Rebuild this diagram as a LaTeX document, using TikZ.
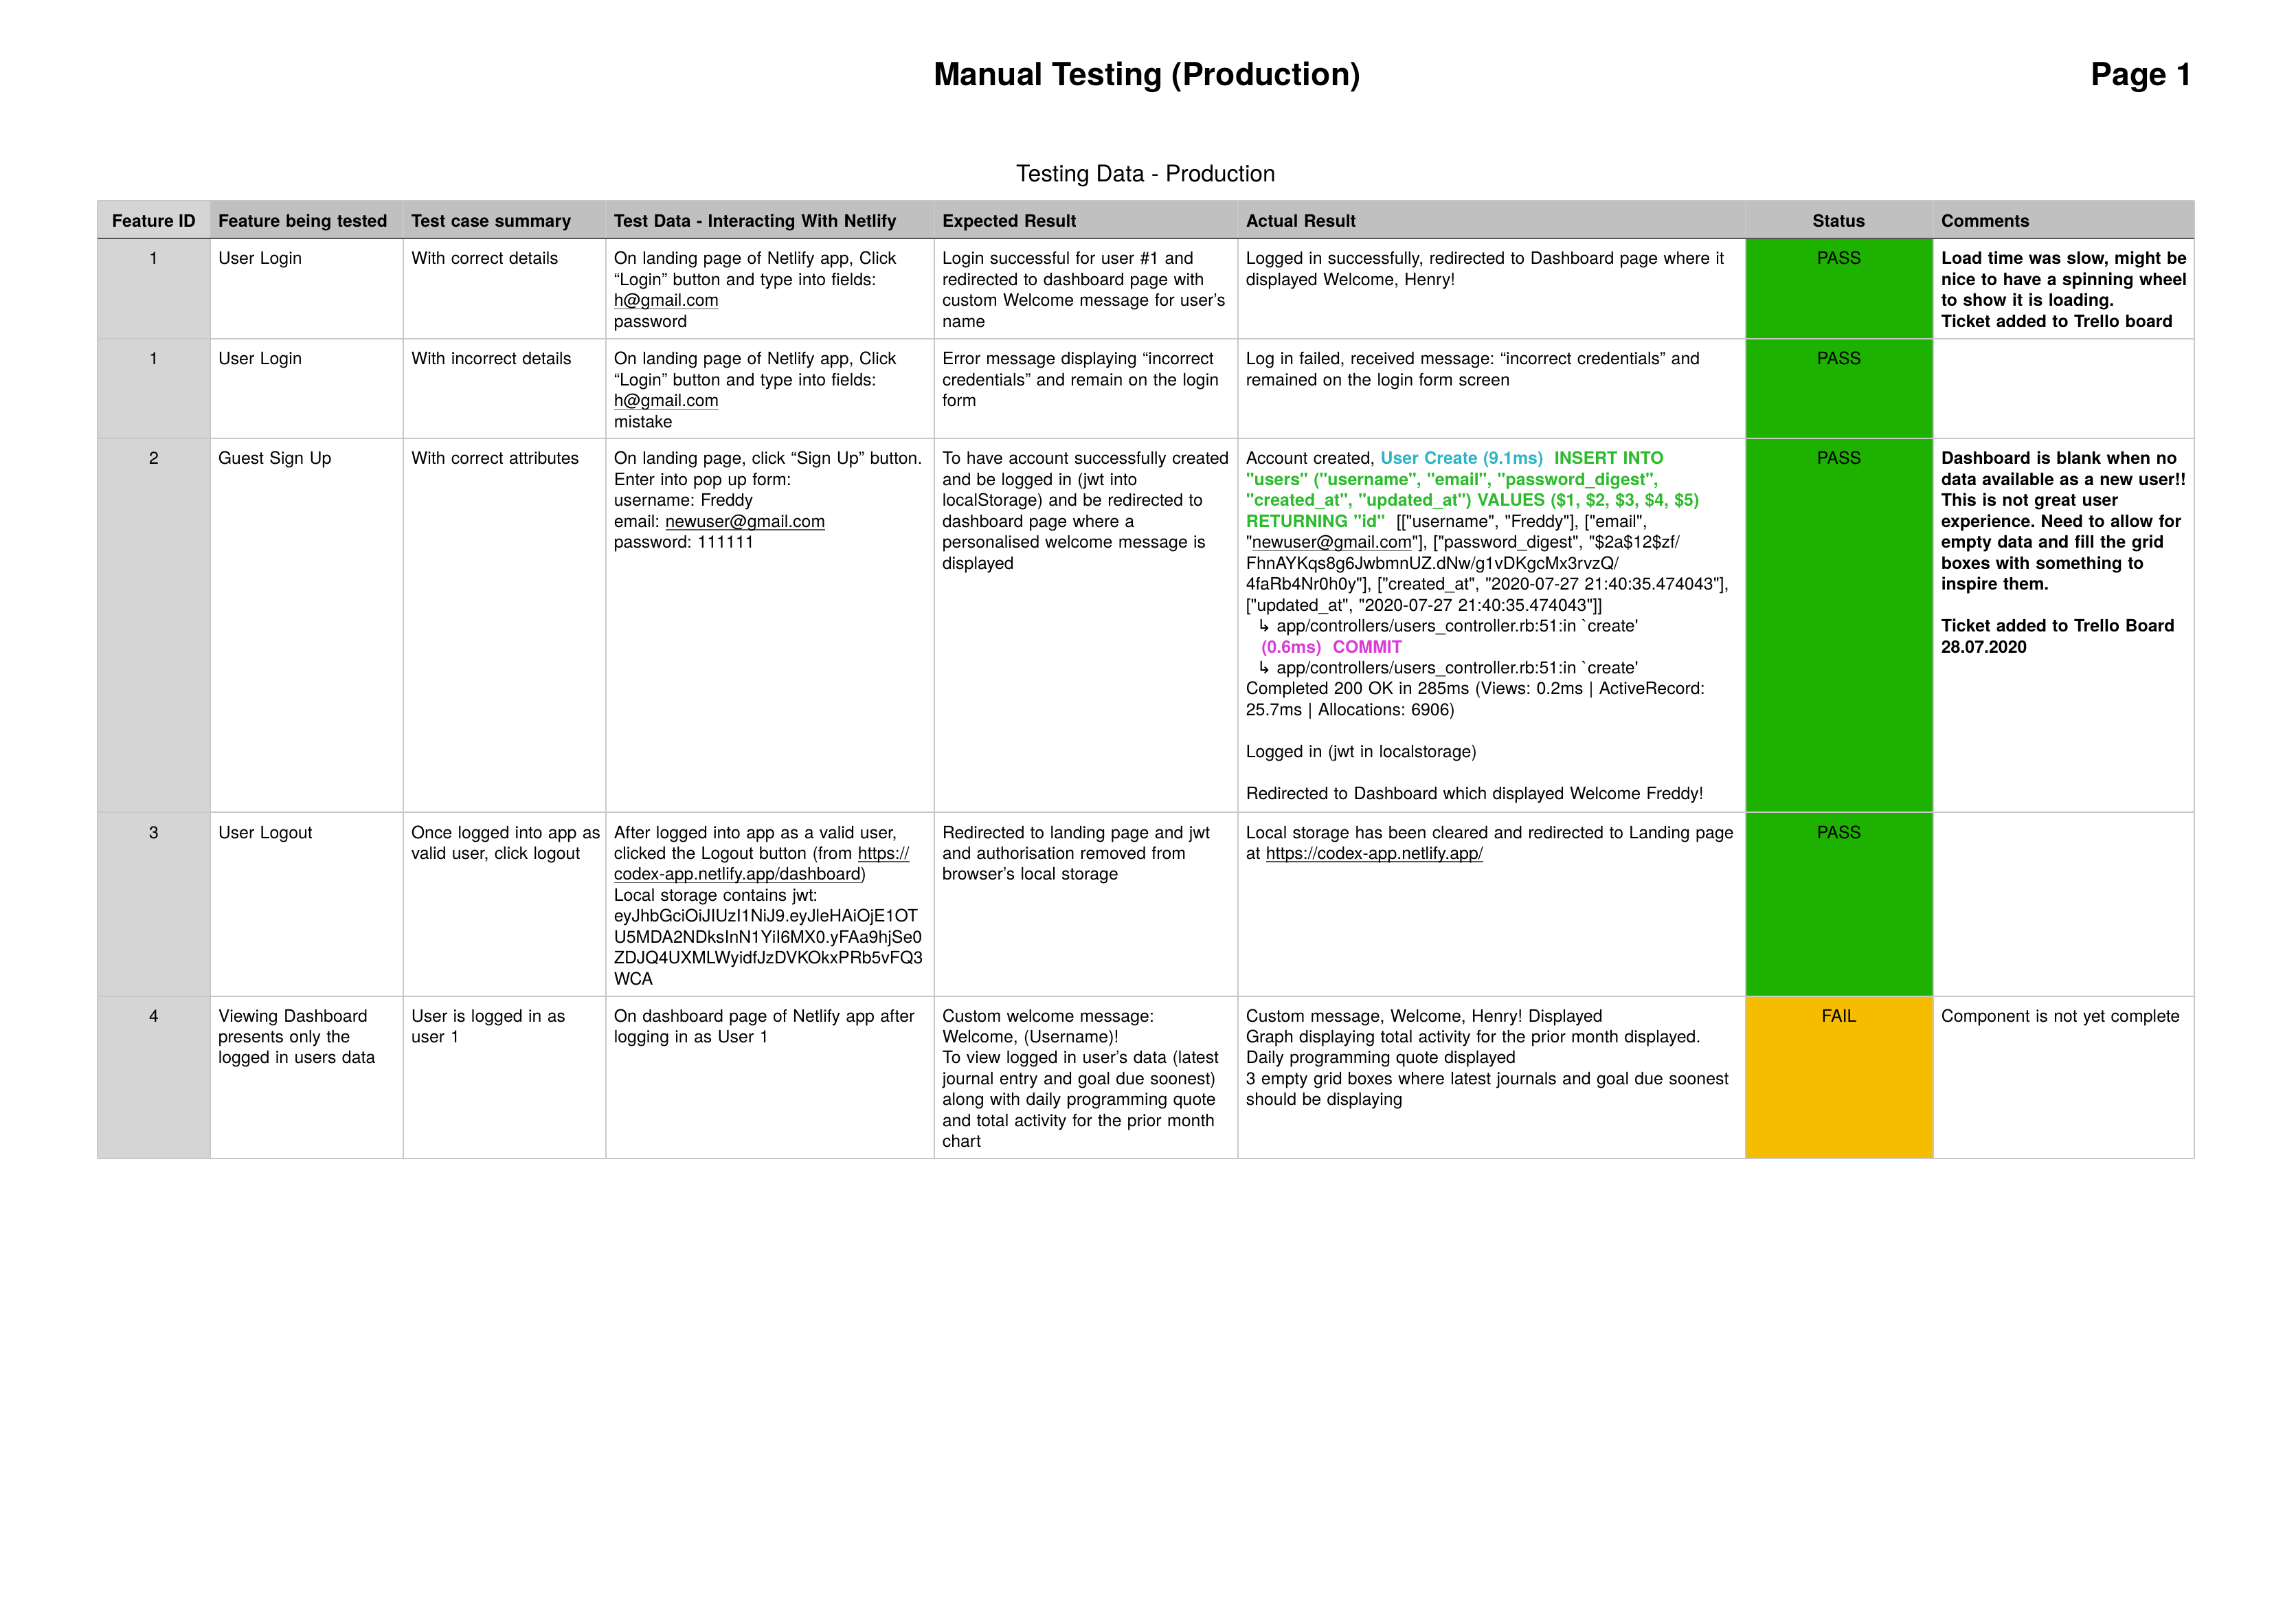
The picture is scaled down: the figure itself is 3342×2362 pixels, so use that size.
\documentclass[tikz,border=0pt]{standalone}
\usepackage{fontspec}
\setmainfont{TeX Gyre Heros}[Ligatures=TeXOff]
\newfontfamily\arrowfont{DejaVu Sans}
\usepackage{tikz}
\usetikzlibrary{positioning}
\frenchspacing

\definecolor{hdrgray}{HTML}{BFC0BF}
\definecolor{idgray}{HTML}{D5D5D5}
\definecolor{gridgray}{HTML}{C8C8C8}
\definecolor{rulegray}{HTML}{555555}
\definecolor{passgreen}{HTML}{1DB100}
\definecolor{failorange}{HTML}{F6BC00}
\definecolor{sqlcyan}{HTML}{2FB4C6}
\definecolor{sqlgreen}{HTML}{2CBB2C}
\definecolor{sqlpink}{HTML}{D93CD9}

\newcommand\bodyfont{\fontsize{6.3}{7.7}\selectfont}
\newcommand\hook{\hspace*{1.4mm}{\arrowfont ↳}\ }
\newcommand\link[1]{\leavevmode\setbox0\hbox{#1}\rlap{\color{rulegray}\rule[-1.1pt]{\wd0}{0.35pt}}\box0}

\begin{document}
\begin{tikzpicture}[
		  x=0.08887mm, y=-0.08887mm,
		  cell/.style={anchor=base west, inner sep=0pt, align=left, text width=70mm, font=\bodyfont},
		  mid/.style={anchor=base, inner sep=0pt, font=\bodyfont},
		  head/.style={cell, font=\bodyfont\bfseries},
		  note/.style={cell, font=\bodyfont\bfseries},
		  vline/.style={gridgray, line width=0.3pt},
		  hline/.style={gridgray, line width=0.55pt},
		  hrule/.style={rulegray, line width=0.75pt}
		]
		\useasboundingbox[fill=white] (0,0) rectangle (3342,2362);
		
		% titles
		\node[anchor=base, inner sep=0pt, font=\fontsize{11.7}{14}\selectfont\bfseries] (title) at (1670,125) {Manual Testing (Production)};
		\node[anchor=base east, inner sep=0pt, font=\fontsize{11.7}{14}\selectfont\bfseries] (page) at (3194,125) {Page 1};
		\node[anchor=base, inner sep=0pt, font=\fontsize{8.5}{10}\selectfont] (sub) at (1668,265) {Testing Data - Production};
		
		% cell fills
		\fill[hdrgray] (142,292) rectangle (3194,347);
		\fill[idgray] (142,292) rectangle (306,1686);
		\fill[passgreen] (2541,347) rectangle (2814,1450);
		\fill[failorange] (2541,1450) rectangle (2814,1686);
		
		% grid
		\draw[vline] (142,292) -- (142,1686) (306,292) -- (306,1686) (587,292) -- (587,1686)
		  (882,292) -- (882,1686) (1360,292) -- (1360,1686) (1802,292) -- (1802,1686)
		  (2541,292) -- (2541,1686) (2814,292) -- (2814,1686) (3194,292) -- (3194,1686);
		\draw[hline] (142,292) -- (3194,292) (142,493) -- (3194,493) (142,638) -- (3194,638)
		  (142,1182) -- (3194,1182) (142,1450) -- (3194,1450) (142,1686) -- (3194,1686);
		\draw[hrule] (142,347) -- (3194,347);
		
		% header
		\node[mid, font=\bodyfont\bfseries] (hId) at (224,331) {Feature ID};
		\node[head] (hFeature) at (317,331) {Feature being tested};
		\node[head] (hSummary) at (598,331) {Test case summary};
		\node[head] (hData) at (893,331) {Test Data - Interacting With Netlify};
		\node[head] (hExpected) at (1371,331) {Expected Result};
		\node[head] (hActual) at (1813,331) {Actual Result};
		\node[mid, font=\bodyfont\bfseries] (hStatus) at (2677,331) {Status};
		\node[head] (hComments) at (2825,331) {Comments};
		
		% row 1
		\node[mid] (id1) at (224,385) {1};
		\node[cell] (feat1) at (317,385) {User Login};
		\node[cell] (sum1) at (598,385) {With correct details};
		\node[cell] (data1) at (893,385) {On landing page of Netlify app, Click\\“Login” button and type into fields:\\\link{h@gmail.com}\\password};
		\node[cell] (exp1) at (1371,385) {Login successful for user \#1 and\\redirected to dashboard page with\\custom Welcome message for user’s\\name};
		\node[cell] (act1) at (1813,385) {Logged in successfully, redirected to Dashboard page where it\\displayed Welcome, Henry!};
		\node[mid] (stat1) at (2677,385) {PASS};
		\node[note] (com1) at (2825,385) {Load time was slow, might be\\nice to have a spinning wheel\\to show it is loading.\\Ticket added to Trello board};
		
		% row 2
		\node[mid] (id2) at (224,531) {1};
		\node[cell] (feat2) at (317,531) {User Login};
		\node[cell] (sum2) at (598,531) {With incorrect details};
		\node[cell] (data2) at (893,531) {On landing page of Netlify app, Click\\“Login” button and type into fields:\\\link{h@gmail.com}\\mistake};
		\node[cell] (exp2) at (1371,531) {Error message displaying “incorrect\\credentials” and remain on the login\\form};
		\node[cell] (act2) at (1813,531) {Log in failed, received message: “incorrect credentials” and\\remained on the login form screen};
		\node[mid] (stat2) at (2677,531) {PASS};
		
		% row 3
		\node[mid] (id3) at (224,676) {2};
		\node[cell] (feat3) at (317,676) {Guest Sign Up};
		\node[cell] (sum3) at (598,676) {With correct attributes};
		\node[cell] (data3) at (893,676) {On landing page, click “Sign Up” button.\\Enter into pop up form:\\username: Freddy\\email: \link{newuser@gmail.com}\\password: 111111};
		\node[cell] (exp3) at (1371,676) {To have account successfully created\\and be logged in (jwt into\\localStorage) and be redirected to\\dashboard page where a\\personalised welcome message is\\displayed};
		\node[cell] (act3) at (1813,676) {Account created, {\bfseries\color{sqlcyan}User Create (9.1ms)}\ \ {\bfseries\color{sqlgreen}INSERT INTO}\\
		  {\bfseries\color{sqlgreen}"users" ("username", "email", "password\_digest",}\\
		  {\bfseries\color{sqlgreen}"created\_at", "updated\_at") VALUES (\$1, \$2, \$3, \$4, \$5)}\\
		  {\bfseries\color{sqlgreen}RETURNING "id"}\ \ [["username", "Freddy"], ["email",\\
		  "\link{newuser@gmail.com}"], ["password\_digest", "\$2a\$12\$zf/\\
		  FhnAYKqs8g6JwbmnUZ.dNw/g1vDKgcMx3rvzQ/\\
		  4faRb4Nr0h0y"], ["created\_at", "2020-07-27 21:40:35.474043"],\\\relax
		  ["updated\_at", "2020-07-27 21:40:35.474043"]]\\
		  \hook app/controllers/users\_controller.rb:51:in `create'\\
		  \hspace*{2mm}{\bfseries\color{sqlpink}(0.6ms)\ \ COMMIT}\\
		  \hook app/controllers/users\_controller.rb:51:in `create'\\
		  Completed 200 OK in 285ms (Views: 0.2ms | ActiveRecord:\\
		  25.7ms | Allocations: 6906)\\[7.7pt]
		  Logged in (jwt in localstorage)\\[7.7pt]
		  Redirected to Dashboard which displayed Welcome Freddy!};
		\node[mid] (stat3) at (2677,676) {PASS};
		\node[note] (com3) at (2825,676) {Dashboard is blank when no\\data available as a new user!!\\This is not great user\\experience. Need to allow for\\empty data and fill the grid\\boxes with something to\\inspire them.\\[7.7pt]Ticket added to Trello Board\\28.07.2020};
		
		% row 4
		\node[mid] (id4) at (224,1220) {3};
		\node[cell] (feat4) at (317,1220) {User Logout};
		\node[cell] (sum4) at (598,1220) {Once logged into app as\\valid user, click logout};
		\node[cell] (data4) at (893,1220) {After logged into app as a valid user,\\clicked the Logout button (from \link{https://}\\\link{codex-app.netlify.app/dashboard})\\Local storage contains jwt:\\eyJhbGciOiJIUzI1NiJ9.eyJleHAiOjE1OT\\U5MDA2NDksInN1YiI6MX0.yFAa9hjSe0\\ZDJQ4UXMLWyidfJzDVKOkxPRb5vFQ3\\WCA};
		\node[cell] (exp4) at (1371,1220) {Redirected to landing page and jwt\\and authorisation removed from\\browser’s local storage};
		\node[cell] (act4) at (1813,1220) {Local storage has been cleared and redirected to Landing page\\at \link{https://codex-app.netlify.app/}};
		\node[mid] (stat4) at (2677,1220) {PASS};
		
		% row 5
		\node[mid] (id5) at (224,1487) {4};
		\node[cell] (feat5) at (317,1487) {Viewing Dashboard\\presents only the\\logged in users data};
		\node[cell] (sum5) at (598,1487) {User is logged in as\\user 1};
		\node[cell] (data5) at (893,1487) {On dashboard page of Netlify app after\\logging in as User 1};
		\node[cell] (exp5) at (1371,1487) {Custom welcome message:\\Welcome, (Username)!\\To view logged in user’s data (latest\\journal entry and goal due soonest)\\along with daily programming quote\\and total activity for the prior month\\chart};
		\node[cell] (act5) at (1813,1487) {Custom message, Welcome, Henry! Displayed\\Graph displaying total activity for the prior month displayed.\\Daily programming quote displayed\\3 empty grid boxes where latest journals and goal due soonest\\should be displaying};
		\node[mid] (stat5) at (2677,1487) {FAIL};
		\node[cell] (com5) at (2825,1487) {Component is not yet complete};
		\end{tikzpicture}
\end{document}
